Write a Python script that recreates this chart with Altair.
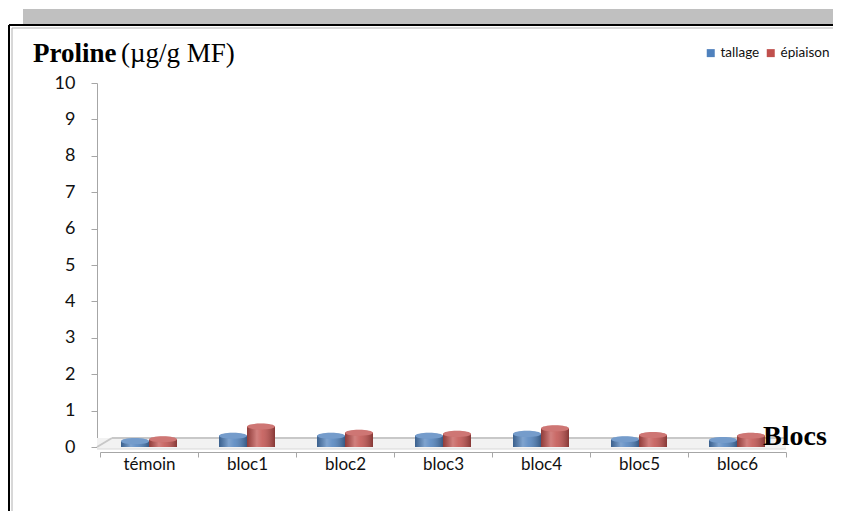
import altair as alt
import pandas as pd

categories = ["témoin", "bloc1", "bloc2", "bloc3", "bloc4", "bloc5", "bloc6"]
series = ["tallage", "épiaison"]
tallage = [0.05, 0.20, 0.20, 0.20, 0.25, 0.10, 0.08]
epiaison = [0.10, 0.45, 0.28, 0.25, 0.40, 0.22, 0.20]
colors = ["#4F81BD", "#C0504D"]
y_ticks = list(range(0, 11))

rows = []
for c, t, e in zip(categories, tallage, epiaison):
    rows.append({"Bloc": c, "Série": series[0], "val": t, "zero": 0})
    rows.append({"Bloc": c, "Série": series[1], "val": e, "zero": 0})
df = pd.DataFrame(rows)

W, H = 686, 364
RP = 47
LIFT = -4

x_axis = alt.Axis(title=None, labelAngle=0, tickBand="extent",
                  domainColor="#A6A6A6", tickColor="#A6A6A6",
                  tickSize=5, labelPadding=-1, offset=5,
                  labelFont="Lato", labelFontSize=17, labelFontWeight="normal",
                  labelColor="#111111", grid=False)
y_axis = alt.Axis(title=None, values=y_ticks, format="d", labelOverlap=False,
                  domainColor="#A6A6A6", tickColor="#A6A6A6",
                  tickSize=6, labelPadding=16, offset=3,
                  labelFont="Lato", labelFontSize=18, labelFontWeight="normal",
                  labelColor="#111111", grid=False)
y_scale = alt.Scale(domain=[0, 10])

x_enc = alt.X("Bloc:N", sort=categories,
              scale=alt.Scale(paddingInner=0, paddingOuter=0), axis=x_axis)
y_enc = alt.Y("val:Q", scale=y_scale, axis=y_axis)
y0_enc = alt.Y("zero:Q", scale=y_scale, axis=y_axis)
xo = alt.XOffset("Série:N", scale=alt.Scale(domain=series, paddingInner=0, paddingOuter=0.75))
color_enc = alt.Color("Série:N", scale=alt.Scale(domain=series, range=colors),
                      legend=alt.Legend(title=None, orient="none", direction="horizontal",
                                        legendX=604, legendY=-37, symbolType="square",
                                        symbolSize=64, symbolStrokeWidth=0,
                                        labelFont="Lato", labelFontSize=13.5,
                                        labelFontWeight="normal",
                                        labelColor="#111111", columnPadding=4,
                                        labelOffset=3))

base = alt.Chart(df)

ellipse = "M -1 0 A 1 0.22 0 1 1 1 0 A 1 0.22 0 1 1 -1 0 Z"

body = base.mark_bar(size=28, yOffset=LIFT).encode(
    x=x_enc, xOffset=xo, y=y_enc, y2="zero:Q", color=color_enc)

shade = base.mark_bar(size=28, yOffset=LIFT, fill={
    "gradient": "linear", "x1": 0, "x2": 1, "y1": 0, "y2": 0,
    "stops": [
        {"offset": 0, "color": "rgba(0,0,0,0.25)"},
        {"offset": 0.35, "color": "rgba(255,255,255,0.28)"},
        {"offset": 0.55, "color": "rgba(255,255,255,0.15)"},
        {"offset": 1, "color": "rgba(0,0,0,0.3)"},
    ]}).encode(x=x_enc, xOffset=xo, y=y_enc, y2="zero:Q")

bottom = base.mark_point(shape=ellipse, size=784, filled=True, opacity=1, yOffset=LIFT).encode(
    x=x_enc, xOffset=xo, y=y0_enc, color=color_enc)
bottom_shade = base.mark_point(shape=ellipse, size=784, filled=True, color="#000000",
                               opacity=0.18, yOffset=LIFT).encode(
    x=x_enc, xOffset=xo, y=y0_enc)
top = base.mark_point(shape=ellipse, size=784, filled=True, opacity=1, yOffset=LIFT).encode(
    x=x_enc, xOffset=xo, y=y_enc, color=color_enc)
top_light = base.mark_point(shape=ellipse, size=784, filled=True, color="#FFFFFF",
                            opacity=0.22, yOffset=LIFT).encode(
    x=x_enc, xOffset=xo, y=y_enc)

one = alt.Chart(pd.DataFrame({"k": [0]}))

band = one.mark_rect(color="#C0C0C0").encode(
    x=alt.value(-77), x2=alt.value(W + RP), y=alt.value(-74), y2=alt.value(-59))
frame_top = one.mark_rule(color="#000000", strokeWidth=2).encode(
    x=alt.value(-91), x2=alt.value(W + RP), y=alt.value(-58))
frame_left = one.mark_rule(color="#000000", strokeWidth=2).encode(
    x=alt.value(-91), y=alt.value(-58), y2=alt.value(H + 64))
inner_top = one.mark_rule(color="#B0B0B0", strokeWidth=1).encode(
    x=alt.value(-88), x2=alt.value(W + RP), y=alt.value(-55))
inner_left = one.mark_rule(color="#B0B0B0", strokeWidth=1).encode(
    x=alt.value(-88), y=alt.value(-55), y2=alt.value(H + 64))

floor_back = one.mark_rule(color="#C8C8C8", strokeWidth=2).encode(
    x=alt.value(12), x2=alt.value(W), y=alt.value(H - 9))
floor_slant = one.mark_rule(color="#C8C8C8", strokeWidth=2).encode(
    x=alt.value(-3), x2=alt.value(12), y=alt.value(H), y2=alt.value(H - 9))
floor_fill = one.mark_rect(color="#F2F2F2").encode(
    x=alt.value(-3), x2=alt.value(W), y=alt.value(H - 9), y2=alt.value(H + 2))
floor_front = one.mark_rule(color="#D8D8D8", strokeWidth=1).encode(
    x=alt.value(-3), x2=alt.value(W), y=alt.value(H + 2))

title_bold = one.mark_text(text="Proline", font="Liberation Serif", fontSize=27,
                           fontWeight="bold", align="left", baseline="alphabetic",
                           color="#000000").encode(x=alt.value(-67), y=alt.value(-21))
title_unit = one.mark_text(text="(µg/g MF)", font="Liberation Serif", fontSize=27,
                           align="left", baseline="alphabetic",
                           color="#000000").encode(x=alt.value(21), y=alt.value(-21))
xlabel = one.mark_text(text="Blocs", font="Liberation Serif", fontSize=28,
                       fontWeight="bold", align="left", baseline="alphabetic",
                       color="#000000").encode(x=alt.value(663), y=alt.value(362))

chart = alt.layer(
    band, frame_top, frame_left, inner_top, inner_left,
    floor_fill, floor_back, floor_slant, floor_front,
    bottom, bottom_shade, body, shade, top, top_light,
    title_bold, title_unit, xlabel,
).properties(
    width=W, height=H,
    background="#FFFFFF",
    view=alt.ViewBackground(stroke="transparent", strokeWidth=0, strokeOpacity=0),
    autosize=alt.AutoSizeParams(type="none"),
    padding={"left": 92, "top": 75, "right": RP, "bottom": 64},
).configure_view(stroke="transparent", strokeWidth=0, strokeOpacity=0)

chart.save("out.html", embed_options={"renderer": "svg", "actions": False})
